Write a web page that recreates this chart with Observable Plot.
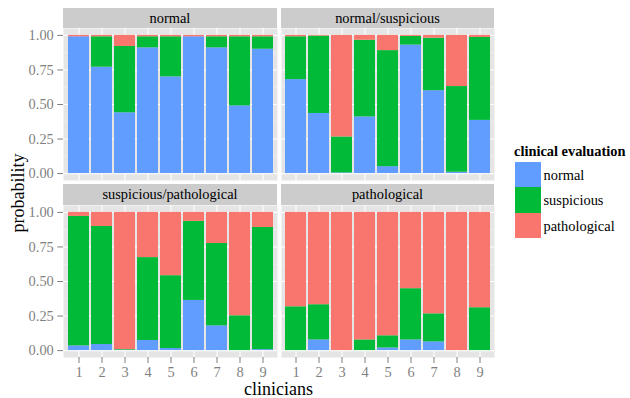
<!DOCTYPE html>
<html><head><meta charset="utf-8">
<script src="https://cdn.jsdelivr.net/npm/d3@7"></script>
<script src="https://cdn.jsdelivr.net/npm/@observablehq/plot@0.6"></script>
<style>
body{margin:0;background:#fff;}
#chart{position:relative;width:630px;height:398px;font-family:"Liberation Serif","Times New Roman",serif;overflow:hidden;background:#fff;}
.strip{position:absolute;background:#CCCCCC;color:#000;font-size:14.4px;line-height:1;display:flex;align-items:center;justify-content:center;white-space:nowrap;}
.abs{position:absolute;white-space:nowrap;}
.plotbox{position:absolute;}
</style></head><body><div id="chart"></div>
<script>
// ---- data ----
const clinicians = ["1","2","3","4","5","6","7","8","9"];
const categories = ["normal","suspicious","pathological"];
const colors = ["#619CFF","#00BA38","#F8766D"];
const panelTitles = ["normal","normal/suspicious","suspicious/pathological","pathological"];
const yTicks = [0, 0.25, 0.5, 0.75, 1];
const yMinor = [0.125, 0.375, 0.625, 0.875];
const legendTitle = "clinical evaluation";
const xTitle = "clinicians";
const yTitle = "probability";

// panel 1: normal
const p1Normal       = [0.99, 0.77, 0.44, 0.91, 0.70, 0.99, 0.91, 0.49, 0.90];
const p1Suspicious   = [0.00, 0.22, 0.48, 0.08, 0.29, 0.00, 0.08, 0.50, 0.09];
const p1Pathological = [0.01, 0.01, 0.08, 0.01, 0.01, 0.01, 0.01, 0.01, 0.01];
// panel 2: normal/suspicious
const p2Normal       = [0.68, 0.435, 0.005, 0.41, 0.05, 0.93, 0.60, 0.01, 0.385];
const p2Suspicious   = [0.31, 0.56, 0.26, 0.555, 0.84, 0.063, 0.38, 0.62, 0.60];
const p2Pathological = [0.01, 0.005, 0.735, 0.035, 0.11, 0.007, 0.02, 0.37, 0.015];
// panel 3: suspicious/pathological
const p3Normal       = [0.034, 0.044, 0.002, 0.073, 0.015, 0.363, 0.179, 0.00, 0.007];
const p3Suspicious   = [0.937, 0.854, 0.005, 0.600, 0.527, 0.572, 0.596, 0.252, 0.884];
const p3Pathological = [0.029, 0.102, 0.993, 0.327, 0.458, 0.065, 0.225, 0.748, 0.109];
// panel 4: pathological
const p4Normal       = [0.00, 0.077, 0.00, 0.00, 0.019, 0.077, 0.063, 0.00, 0.00];
const p4Suspicious   = [0.317, 0.255, 0.00, 0.077, 0.088, 0.371, 0.203, 0.00, 0.310];
const p4Pathological = [0.683, 0.668, 1.00, 0.923, 0.893, 0.552, 0.734, 1.00, 0.690];

const panelSeries = [
  [p1Normal, p1Suspicious, p1Pathological],
  [p2Normal, p2Suspicious, p2Pathological],
  [p3Normal, p3Suspicious, p3Pathological],
  [p4Normal, p4Suspicious, p4Pathological]
];

function rows(series) {
  const out = [];
  categories.forEach((cat, ci) => {
    clinicians.forEach((c, i) => out.push({clinician: c, category: cat, value: series[ci][i]}));
  });
  return out;
}

// ---- layout ----
const chart = document.getElementById("chart");
const colLeft = [63, 281];
const panelW = [214, 213];
const rowTop = [28, 205];
const panelH = 152;
const stripTop = [8, 184];
const stripH = [20, 21];
const yAxisMargin = 63;
const xAxisMargin = 32;
const gray = "#7F7F7F";
const fontSize = 14.4;

panelTitles.forEach((title, k) => {
  const r = Math.floor(k / 2), c = k % 2;
  const showY = c === 0, showX = r === 1;
  const ml = showY ? yAxisMargin : 0;
  const mb = showX ? xAxisMargin : 0;
  const marks = [
    Plot.frame({fill: "#E5E5E5", stroke: null}),
    Plot.gridY(yMinor, {stroke: "#F2F2F2", strokeOpacity: 1, strokeWidth: 0.6}),
    Plot.gridY(yTicks, {stroke: "white", strokeOpacity: 1, strokeWidth: 1.1}),
    Plot.gridX(clinicians, {stroke: "white", strokeOpacity: 1, strokeWidth: 1.1}),
    Plot.barY(rows(panelSeries[k]), {x: "clinician", y: "value", fill: "category"})
  ];
  if (showY) marks.push(Plot.axisY(yTicks, {tickSize: 5.7, tickPadding: 4, tickFormat: d3.format(".2f"), color: gray, fontSize, label: null}));
  if (showX) marks.push(Plot.axisX(clinicians, {tickSize: 6, tickPadding: 3, color: gray, fontSize, label: null}));
  const svg = Plot.plot({
    width: ml + panelW[c],
    height: panelH + mb,
    marginLeft: ml, marginRight: 0, marginTop: 0, marginBottom: mb,
    style: {fontFamily: '"Liberation Serif","Times New Roman",serif', fontSize: fontSize + "px", background: "transparent", overflow: "visible"},
    x: {type: "band", domain: clinicians, paddingInner: 0.1, paddingOuter: 0.15, axis: null},
    y: {domain: [-0.05, 1.05], axis: null},
    color: {domain: categories, range: colors},
    marks
  });
  const box = document.createElement("div");
  box.className = "plotbox";
  box.style.left = (colLeft[c] - ml) + "px";
  box.style.top = rowTop[r] + "px";
  box.appendChild(svg);
  chart.appendChild(box);

  const strip = document.createElement("div");
  strip.className = "strip";
  strip.style.left = colLeft[c] + "px";
  strip.style.top = stripTop[r] + "px";
  strip.style.width = panelW[c] + "px";
  strip.style.height = stripH[r] + "px";
  strip.textContent = title;
  chart.appendChild(strip);
});

// axis titles
const xt = document.createElement("div");
xt.className = "abs";
xt.style.cssText += "left:278.5px;top:389px;transform:translate(-50%,-50%);font-size:18px;line-height:1;color:#000;";
xt.textContent = xTitle;
chart.appendChild(xt);

const yt = document.createElement("div");
yt.className = "abs";
yt.style.cssText += "left:18px;top:192.5px;transform:translate(-50%,-50%) rotate(-90deg);font-size:18px;line-height:1;color:#000;";
yt.textContent = yTitle;
chart.appendChild(yt);

// legend
const lt = document.createElement("div");
lt.className = "abs";
lt.style.cssText += "left:514px;top:144px;font-size:14.4px;line-height:1;font-weight:bold;color:#000;";
lt.textContent = legendTitle;
chart.appendChild(lt);
categories.forEach((cat, i) => {
  const top = 161.7 + i * 25.6;
  const key = document.createElement("div");
  key.className = "abs";
  key.style.cssText += `left:515px;top:${top}px;width:26px;height:25.6px;background:${colors[i]};`;
  chart.appendChild(key);
  const lab = document.createElement("div");
  lab.className = "abs";
  lab.style.cssText += `left:543.5px;top:${top + 12.8}px;transform:translateY(-50%);font-size:14.4px;line-height:1;color:#000;`;
  lab.textContent = cat;
  chart.appendChild(lab);
});
</script>
</body></html>
